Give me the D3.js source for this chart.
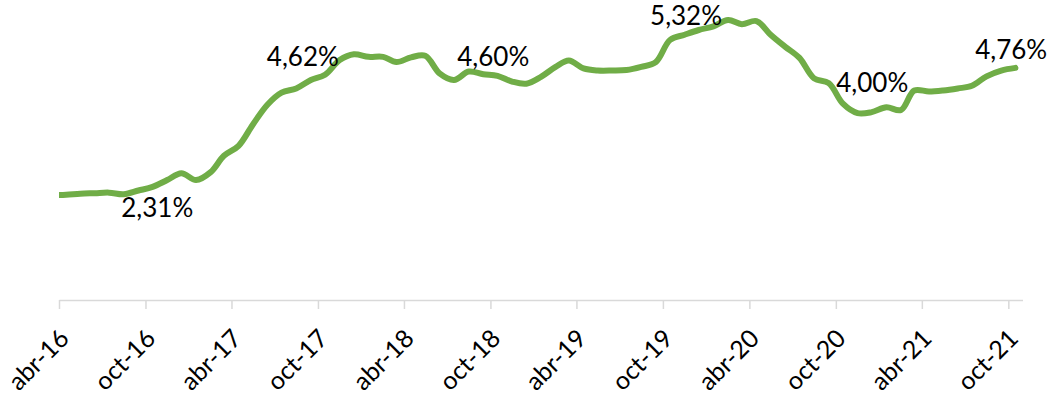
<!DOCTYPE html>
<html>
<head>
<meta charset="utf-8">
<script src="https://cdn.jsdelivr.net/npm/d3@7"></script>
<style>
  body { margin:0; background:#ffffff; }
  text { font-family: Lato, "Open Sans", sans-serif; fill:#000000; }
</style>
</head>
<body>
<svg id="chart" width="1053" height="402"></svg>
<script>
// ---- data (monthly, mid-month points, mar-16 .. oct-21) ----
var firstMonth = "2016-03"
var lastMonth = "2021-10"
var rates = [1.99,2.00,2.02,2.03,2.04,2.01,2.08,2.15,2.28,2.41,2.28,2.43,2.74,2.93,3.33,3.71,
             3.94,4.02,4.18,4.28,4.56,4.67,4.62,4.62,4.52,4.61,4.64,4.30,4.18,4.34,4.29,4.26,
             4.15,4.11,4.24,4.43,4.55,4.40,4.36,4.36,4.37,4.43,4.52,4.94,5.04,5.13,5.20,5.32,
             5.24,5.30,5.04,4.81,4.60,4.21,4.12,3.73,3.55,3.57,3.66,3.61,3.98,3.96,3.98,4.02,
             4.07,4.25,4.36,4.41]

// tick labels every 6 months
var tickDates = ["2016-04-01","2016-10-01","2017-04-01","2017-10-01","2018-04-01","2018-10-01",
                 "2019-04-01","2019-10-01","2020-04-01","2020-10-01","2021-04-01","2021-10-01"]
var tickLabels = ["abr-16","oct-16","abr-17","oct-17","abr-18","oct-18",
                  "abr-19","oct-19","abr-20","oct-20","abr-21","oct-21"]

// annotations
var noteTexts = ["2,31%","4,62%","4,60%","5,32%","4,00%","4,76%"]
var noteValues = [2.31,4.62,4.60,5.32,4.00,4.76]
var noteDates = ["2016-10-26","2017-08-30","2018-10-07","2019-11-19","2020-12-17","2021-10-07"]

var parseDay = d3.timeParse("%Y-%m-%d")
var parseMonth = d3.timeParse("%Y-%m")

var months = d3.timeMonth.range(parseMonth(firstMonth), d3.timeMonth.offset(parseMonth(lastMonth), 1))
var Data = months.map(function(m, i) { return { date: d3.timeDay.offset(m, 15), value: rates[i] } })

var svg = d3.select("#chart")
var axisY = 300

var xScale = d3.scaleTime()
    .domain([parseDay("2016-04-01"), parseDay("2021-10-31")])
    .range([59, 1022.5])

var yScale = d3.scaleLinear()
    .domain([0, 5.7])
    .range([axisY, 0])

svg.append("rect")
  .attr("width", 1053).attr("height", 402)
  .attr("fill", "#ffffff")

// plot area clip (line start is cut flat at the axis start)
svg.append("defs").append("clipPath")
  .attr("id", "plotClip")
  .append("rect")
  .attr("x", xScale.range()[0])
  .attr("y", 0)
  .attr("width", xScale.range()[1] - xScale.range()[0] + 10)
  .attr("height", axisY)

// x axis
var xAxis = d3.axisBottom(xScale)
    .tickValues(tickDates.map(parseDay))
    .tickSize(9)
    .tickSizeOuter(0)
    .tickFormat(function(d, i) { return tickLabels[i] })

var gx = svg.append("g")
    .attr("transform", "translate(0," + axisY + ")")
    .call(xAxis)

gx.select(".domain").attr("stroke", "#d9d9d9").attr("stroke-width", 1.5)
gx.selectAll(".tick line").attr("stroke", "#d9d9d9").attr("stroke-width", 1.5)
gx.selectAll(".tick text")
  .attr("font-size", "25px")
  .attr("font-family", "Lato, sans-serif")
  .attr("fill", "#000000")
  .attr("text-anchor", "end")
  .attr("dy", null)
  .attr("y", 0)
  .attr("transform", "translate(11,40)rotate(-45)")

// line
var rateLine = d3.line()
    .x(function(d) { return xScale(d.date) })
    .y(function(d) { return yScale(d.value) })
    .curve(d3.curveCatmullRom.alpha(0.5))

svg.append("path")
  .datum(Data)
  .attr("clip-path", "url(#plotClip)")
  .attr("fill", "none")
  .attr("stroke", "#70ad47")
  .attr("stroke-width", 6)
  .attr("stroke-linecap", "round")
  .attr("stroke-linejoin", "round")
  .attr("d", rateLine)

// value notes, centred on their value; min note sits under the line, 4,00 a bit higher
var noteShift = [29, 0, -1, -4, -7, 0]
svg.selectAll(".note")
  .data(noteTexts)
  .enter().append("text")
  .attr("class", "note")
  .attr("x", function(d, i) { return xScale(parseDay(noteDates[i])) })
  .attr("y", function(d, i) { return yScale(noteValues[i]) + noteShift[i] })
  .attr("dy", "0.36em")
  .attr("text-anchor", "middle")
  .attr("font-size", "26px")
  .text(function(d) { return d })
</script>
</body>
</html>
